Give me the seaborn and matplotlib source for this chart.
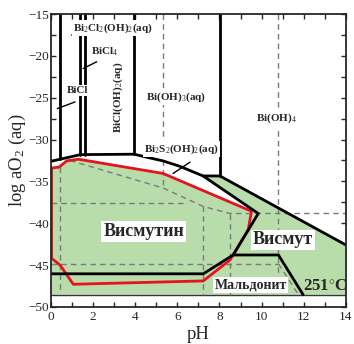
import numpy as np
import pandas as pd
import matplotlib
matplotlib.use('Agg')
import matplotlib.pyplot as plt
import seaborn as sns

# ---- данные (pH, log aO2) ----
green_ph = [0, 0.38, 0.75, 1.3, 5.32, 9.52, 9.84, 7.22, 8.02, 14, 14, 0]
green_lo = [-33.4, -33.3, -32.55, -32.35, -34.05, -38.57, -38.84, -34.4, -34.3, -42.6, -48.55, -48.55]

red_ph = [0.03, 0.38, 0.75, 1.3, 5.32, 9.52, 9.36, 8.5, 7.23, 1.06, 0.43, 0.03, 0.03]
red_lo = [-33.4, -33.3, -32.55, -32.35, -34.05, -38.57, -40.8, -44.4, -46.9, -47.3, -45.0, -44.2, -33.4]

top_ph = [0, 1.4, 3.95, 4.7, 5.32, 6.12, 7.22, 8.02, 14]
top_lo = [-32.6, -31.8, -31.75, -32.2, -32.55, -33.2, -34.35, -34.35, -42.6]

bi_ph = [7.22, 9.84, 8.65, 7.23, 0]
bi_lo = [-34.35, -38.84, -43.8, -46.05, -46.05]

mald_ph = [8.65, 10.8, 11.97]
mald_lo = [-43.8, -43.8, -48.55]

vert_ph = [0.45, 1.38, 1.62, 3.95, 8.02]
vert_lo = [-32.35, -31.85, -31.8, -31.75, -34.35]

dash_a_ph = [0.9, 5.33, 7.23, 8.5, 14]
dash_a_lo = [-32.5, -35.8, -38.0, -38.84, -38.84]
dash_h_lo = [-37.57, -44.85]
dash_h_ph = [(0, 6.3), (0, 10.8)]
dash_v_ph = [0.45, 5.33, 7.23, 8.5, 10.8]
dash_v_lo = [(-33.3, -48.3), (-15, -35.8), (-38.0, -48.55), (-38.84, -48.55), (-15, -48.55)]
dash_m_ph = [10.8, 11.75]
dash_m_lo = [-44.85, -48.55]

leaders = [((0.98, 1.53), (-17.5, -16.9)),
           ((1.53, 2.17), (-21.5, -20.7)),
           ((0.3, 1.14), (-26.3, -25.5)),
           ((5.8, 6.6), (-34.05, -32.7))]

small_labels = ['Bi$_2$Cl$_2$(OH)$_2$(aq)', 'BiCl$_4$', 'BiCl', 'Bi(OH)$_3$(aq)',
                'Bi(OH)$_4$', 'Bi$_2$S$_2$(OH)$_2$(aq)']
small_x = [2.95, 1.9, 0.76, 5.95, 10.7, 6.2]
small_y = [-16.7, -19.5, -24.1, -24.9, -27.5, -31.1]
small_ha = ['center', 'left', 'left', 'center', 'center', 'center']

phase_labels = ['Висмутин', 'Висмут', 'Мальдонит']
phase_x = [4.4, 11.0, 9.48]
phase_y = [-41.0, -42.0, -47.4]
phase_size = [13, 13, 10]

sns.set_style('ticks')
plt.rcParams['font.family'] = ['Liberation Serif', 'DejaVu Serif']
plt.rcParams['mathtext.fontset'] = 'custom'
plt.rcParams['mathtext.rm'] = 'Liberation Serif'
plt.rcParams['mathtext.it'] = 'Liberation Serif:italic'
plt.rcParams['mathtext.bf'] = 'Liberation Serif:bold'

fig = plt.figure(figsize=(3.54, 3.44), dpi=100)
ax = fig.add_axes([0.144, 0.108, 0.833, 0.851])

green = '#b9dcab'
ax.fill(green_ph, green_lo, color=green, lw=0, zorder=1)
ax.plot([0, 14], [-48.55, -48.55], color='#333333', lw=1.0, zorder=2)

# штриховые линии
gray = '#7a7a7a'
dkw = dict(color=gray, lw=1.0, ls=(0, (4, 3)), zorder=2)
ax.plot(dash_a_ph, dash_a_lo, **dkw)
for yv, (x0, x1) in zip(dash_h_lo, dash_h_ph):
    ax.plot([x0, x1], [yv, yv], **dkw)
for xv, (y0, y1) in zip(dash_v_ph, dash_v_lo):
    ax.plot([xv, xv], [y0, y1], **dkw)
ax.plot(dash_m_ph, dash_m_lo, **dkw)

# красный контур
sns.lineplot(x=red_ph, y=red_lo, sort=False, estimator=None, color='#e3141b',
             lw=2.0, ax=ax, zorder=3)

# чёрные границы
bk = dict(color='black', lw=2.0, zorder=4, solid_joinstyle='miter')
sns.lineplot(x=top_ph, y=top_lo, sort=False, estimator=None, ax=ax, **bk)
sns.lineplot(x=bi_ph, y=bi_lo, sort=False, estimator=None, ax=ax, **bk)
sns.lineplot(x=mald_ph, y=mald_lo, sort=False, estimator=None, ax=ax, **bk)
for xv, yv in zip(vert_ph, vert_lo):
    ax.plot([xv, xv], [-15, yv], **bk)

for (xs, ys) in leaders:
    ax.plot(xs, ys, color='black', lw=1.0, zorder=4)

wbox = dict(boxstyle='square,pad=0.1', fc='white', ec='none')
for t, x, y, ha in zip(small_labels, small_x, small_y, small_ha):
    ax.text(x, y, t, ha=ha, va='center', fontsize=8, fontweight='bold', zorder=5,
            bbox=wbox)
ax.text(3.2, -24.9, 'BiCl(OH)$_2$(aq)', rotation=90, ha='center', va='center',
        fontsize=8, fontweight='bold', zorder=5, bbox=wbox)

for t, x, y, s in zip(phase_labels, phase_x, phase_y, phase_size):
    ax.text(x, y, t, ha='center', va='center', fontsize=s, fontweight='bold', zorder=6,
            bbox=dict(boxstyle='square,pad=0.1', fc='white', ec='none'))
ax.text(13.0, -47.6, '251$^{\\circ}$C', ha='center', va='center', fontsize=12,
        fontweight='bold', zorder=6)

ax.set_xlim(0, 14)
ax.set_ylim(-50, -15)
ax.set_xticks(np.arange(0, 15, 2))
ax.set_xticks(np.arange(0, 15, 1), minor=True)
ax.set_yticks(np.arange(-50, -14, 5))
ax.set_yticks(np.arange(-50, -14, 2.5), minor=True)
ax.tick_params(which='both', direction='in', top=True, right=True, length=3.5,
               width=1.0, labelsize=9.5)
ax.tick_params(axis='y', pad=1.5)
ax.tick_params(axis='x', pad=3)
for sp in ax.spines.values():
    sp.set_linewidth(1.3)
    sp.set_zorder(7)
ax.set_xlabel('pH', fontsize=13.5, labelpad=2)
ax.set_ylabel('log aO$_2$ (aq)', fontsize=13.5, labelpad=0)

fig.savefig('out.png', dpi=100)
